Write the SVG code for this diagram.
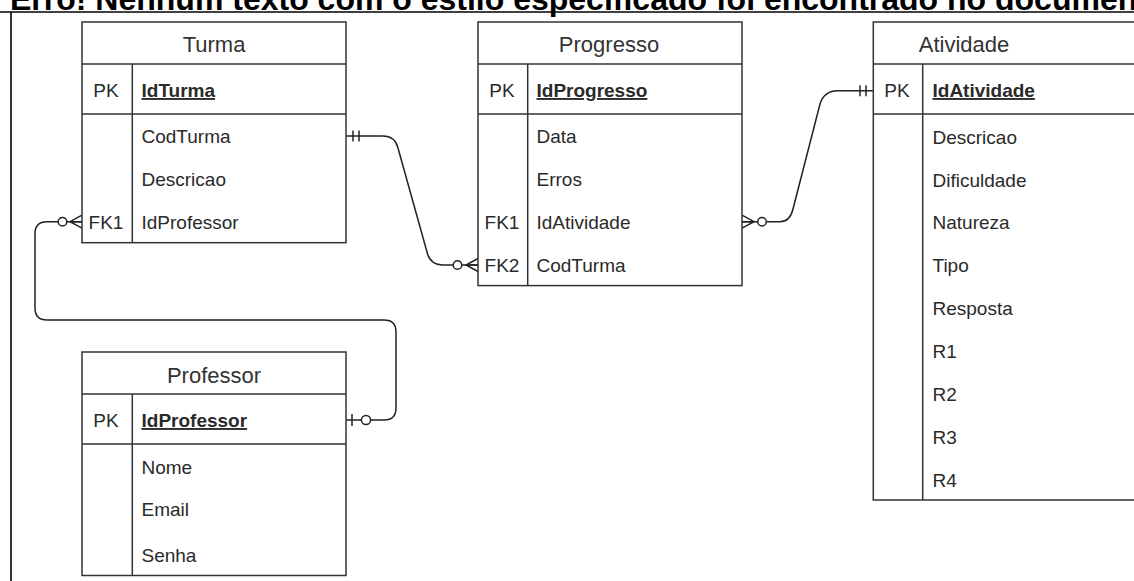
<svg xmlns="http://www.w3.org/2000/svg" width="1134" height="581" viewBox="0 0 1134 581">
  <style>
    .frame { stroke: #000; stroke-width: 1.6; fill: none; }
    .heading { font-family: "Liberation Sans", Arial, sans-serif; font-weight: bold; font-size: 32px; fill: #000; }
    .box { fill: #fff; stroke: #333; stroke-width: 1.5; }
    .line { stroke: #333; stroke-width: 1.5; fill: none; }
    .title { font-family: "Liberation Sans", Arial, sans-serif; font-size: 22px; fill: #333; text-anchor: middle; }
    .fld { font-family: "Liberation Sans", Arial, sans-serif; font-size: 19px; fill: #2a2a2a; }
    .key { font-family: "Liberation Sans", Arial, sans-serif; font-size: 19px; fill: #2a2a2a; text-anchor: middle; }
    .pk { font-weight: bold; text-decoration: underline; }
    .conn { fill: none; stroke: #222; stroke-width: 1.5; }
    .end { fill: none; stroke: #222; stroke-width: 1.5; }
    .ring { fill: #fff; stroke: #222; stroke-width: 1.5; }
  </style>

  <!-- page heading and frame -->
  <text class="heading" x="10" y="9.5">Erro! Nenhum texto com o estilo especificado foi encontrado no documento.</text>
  <line class="frame" x1="0" y1="12" x2="1134" y2="12"/>
  <line class="frame" x1="11" y1="12" x2="11" y2="581"/>

  <!-- relationships -->
  <g id="connectors">
    <!-- Turma.CodTurma (mandatory one) to Progresso.CodTurma (zero or many) -->
    <path class="conn" d="M346,136 H383 Q395,136 398,148 L427,252 Q430,265 443,265 H478"/>
    <line class="end" x1="353" y1="130.5" x2="353" y2="141.5"/>
    <line class="end" x1="359" y1="130.5" x2="359" y2="141.5"/>
    <path class="end" d="M478,258.5 L466,265 L478,271.5 M466,265 H478"/>
    <circle class="ring" cx="457.5" cy="265" r="4.3"/>

    <!-- Progresso.IdAtividade (zero or many) to Atividade.IdAtividade (mandatory one) -->
    <path class="conn" d="M742,221.7 H780 Q790,221.7 793,209 L820,104 Q824,90.7 838,90.7 H873"/>
    <path class="end" d="M742,215.2 L754,221.7 L742,228.2 M742,221.7 H754"/>
    <circle class="ring" cx="762" cy="221.7" r="4.3"/>
    <line class="end" x1="860" y1="85.2" x2="860" y2="96.2"/>
    <line class="end" x1="866" y1="85.2" x2="866" y2="96.2"/>

    <!-- Turma.IdProfessor (zero or many) to Professor.IdProfessor (zero or one) -->
    <path class="conn" d="M82,221.7 H47 Q35,221.7 35,233.7 V308 Q35,320 47,320 H384 Q396,320 396,332 V408 Q396,420 384,420 H346"/>
    <path class="end" d="M82,215.2 L70,221.7 L82,228.2 M70,221.7 H82"/>
    <circle class="ring" cx="62.5" cy="221.7" r="4.3"/>
    <line class="end" x1="352" y1="414" x2="352" y2="426"/>
    <circle class="ring" cx="366" cy="420" r="4.6"/>
  </g>

  <!-- Turma -->
  <g id="turma">
    <rect class="box" x="82" y="22" width="264" height="220.7"/>
    <line class="line" x1="82" y1="64" x2="346" y2="64"/>
    <line class="line" x1="82" y1="114" x2="346" y2="114"/>
    <line class="line" x1="132.3" y1="64" x2="132.3" y2="242.7"/>
    <text class="title" x="214" y="52">Turma</text>
    <text class="key" x="106" y="97">PK</text>
    <text class="fld pk" x="141.5" y="97">IdTurma</text>
    <text class="fld" x="141.5" y="143">CodTurma</text>
    <text class="fld" x="141.5" y="186">Descricao</text>
    <text class="key" x="106" y="229">FK1</text>
    <text class="fld" x="141.5" y="229">IdProfessor</text>
  </g>

  <!-- Progresso -->
  <g id="progresso">
    <rect class="box" x="478" y="22" width="264" height="263.6"/>
    <line class="line" x1="478" y1="64" x2="742" y2="64"/>
    <line class="line" x1="478" y1="114" x2="742" y2="114"/>
    <line class="line" x1="527.7" y1="64" x2="527.7" y2="285.6"/>
    <text class="title" x="609" y="52">Progresso</text>
    <text class="key" x="502" y="97">PK</text>
    <text class="fld pk" x="536.5" y="97">IdProgresso</text>
    <text class="fld" x="536.5" y="143">Data</text>
    <text class="fld" x="536.5" y="186">Erros</text>
    <text class="key" x="502" y="229">FK1</text>
    <text class="fld" x="536.5" y="229">IdAtividade</text>
    <text class="key" x="502" y="272">FK2</text>
    <text class="fld" x="536.5" y="272">CodTurma</text>
  </g>

  <!-- Atividade -->
  <g id="atividade">
    <rect class="box" x="873.3" y="22" width="300" height="478"/>
    <line class="line" x1="873.3" y1="64" x2="1134" y2="64"/>
    <line class="line" x1="873.3" y1="114" x2="1134" y2="114"/>
    <line class="line" x1="922.7" y1="64" x2="922.7" y2="500"/>
    <text class="title" x="964" y="52">Atividade</text>
    <text class="key" x="897" y="97">PK</text>
    <text class="fld pk" x="932.5" y="97">IdAtividade</text>
    <text class="fld" x="932.5" y="143.5">Descricao</text>
    <text class="fld" x="932.5" y="186.5">Dificuldade</text>
    <text class="fld" x="932.5" y="229">Natureza</text>
    <text class="fld" x="932.5" y="272">Tipo</text>
    <text class="fld" x="932.5" y="315">Resposta</text>
    <text class="fld" x="932.5" y="358">R1</text>
    <text class="fld" x="932.5" y="401">R2</text>
    <text class="fld" x="932.5" y="443.5">R3</text>
    <text class="fld" x="932.5" y="486.5">R4</text>
  </g>

  <!-- Professor -->
  <g id="professor">
    <rect class="box" x="82" y="352" width="264" height="223.5"/>
    <line class="line" x1="82" y1="394" x2="346" y2="394"/>
    <line class="line" x1="82" y1="444" x2="346" y2="444"/>
    <line class="line" x1="132.3" y1="394" x2="132.3" y2="575.5"/>
    <text class="title" x="214" y="383">Professor</text>
    <text class="key" x="106" y="427">PK</text>
    <text class="fld pk" x="141.5" y="427">IdProfessor</text>
    <text class="fld" x="141.5" y="473.5">Nome</text>
    <text class="fld" x="141.5" y="516">Email</text>
    <text class="fld" x="141.5" y="562">Senha</text>
  </g>
</svg>
